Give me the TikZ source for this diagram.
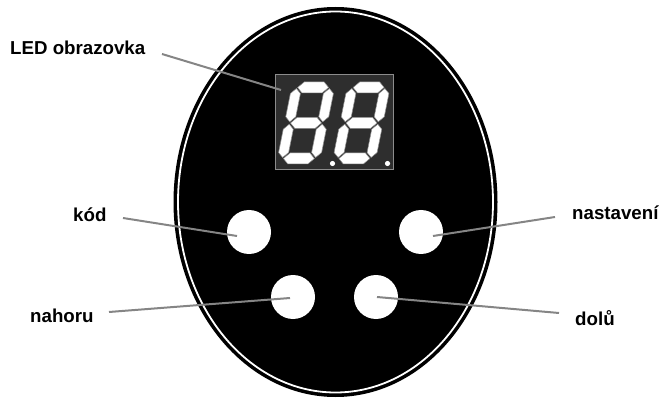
\documentclass[tikz,border=0pt]{standalone}
\usepackage{fontspec}
\setmainfont{Liberation Sans}
\begin{document}
\begin{tikzpicture}[x=1pt,y=-1pt,
  lbl/.style={font=\fontsize{18.7}{20}\selectfont\bfseries, anchor=base west, inner sep=0pt},
  leader/.style={draw=black!48, line width=2pt},
  btn/.style={circle, fill=white, minimum size=44pt, inner sep=0pt},
  seg/.style={fill=white, draw=black!45, line width=0.5pt, line join=round}]
\useasboundingbox (0,0) rectangle (664,398);
% body
\fill[black] (335.5,202) ellipse [x radius=162, y radius=195];
\draw[white, line width=1.8pt] (335.5,202) ellipse [x radius=157.5, y radius=190.5];
% display
\node[draw=black!45, fill=black!82, line width=1pt, minimum width=118pt, minimum height=95pt, inner sep=0pt] (disp) at (334,122.5) {};
\foreach \cx in {306,361.5}{
\begin{scope}[shift={(\cx,123)}, xslant=0.2]
  % horizontal segments
  \foreach \yy in {-35.5,0,35.5}{
    \path[seg] (-15.5,\yy) -- (-10,\yy-5.5) -- (10,\yy-5.5) -- (15.5,\yy) -- (10,\yy+5.5) -- (-10,\yy+5.5) -- cycle;}
  % vertical segments
  \foreach \xx in {-16.5,16.5}{
    \foreach \ya/\yb in {-34.5/-1.2,1.2/34.5}{
      \path[seg] (\xx,\ya) -- (\xx+5,\ya+5) -- (\xx+5,\yb-5) -- (\xx,\yb) -- (\xx-5,\yb-5) -- (\xx-5,\ya+5) -- cycle;}}
\end{scope}}
\fill[white] (332.5,163.5) circle (2.6);
\fill[white] (387.5,163.5) circle (2.6);
% buttons
\node[btn] (kod) at (249,232) {};
\node[btn] (nast) at (421,232) {};
\node[btn] (nah) at (293,297) {};
\node[btn] (dol) at (376,297) {};
% labels
\node[lbl] (tled) at (10,55) {LED obrazovka};
\node[lbl] (tkod) at (73,222) {kód};
\node[lbl] (tnast) at (572,220) {nastavení};
\node[lbl] (tnah) at (30,322) {nahoru};
\node[lbl] (tdol) at (575,325) {dolů};
% leader points
\coordinate (aled) at (162,54);
\coordinate (bled) at (281,90);
\coordinate (akod) at (123,218);
\coordinate (bkod) at (237,236);
\coordinate (anast) at (555,217);
\coordinate (bnast) at (433,236);
\coordinate (anah) at (109,312);
\coordinate (bnah) at (290,298);
\coordinate (adol) at (559,313);
\coordinate (bdol) at (377,297);
\draw[leader] (aled) -- (bled);
\draw[leader] (akod) -- (bkod);
\draw[leader] (anast) -- (bnast);
\draw[leader] (anah) -- (bnah);
\draw[leader] (adol) -- (bdol);
\end{tikzpicture}
\end{document}
